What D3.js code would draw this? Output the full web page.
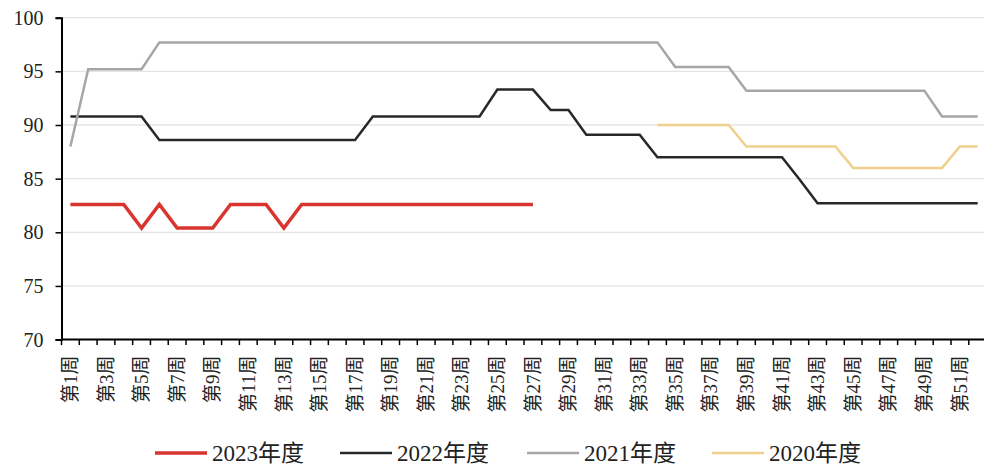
<!DOCTYPE html>
<html><head><meta charset="utf-8">
<script src="https://cdn.jsdelivr.net/npm/d3@7"></script>
<style>html,body{margin:0;padding:0;background:#fff;}svg{display:block;}</style>
</head><body>
<svg id="c" width="984" height="468"></svg>
<script>
const weeks = Array.from({length:52},(_,i)=>"第"+(i+1)+"周");
const yTicks = [70,75,80,85,90,95,100];
const seriesNames = ["2023年度","2022年度","2021年度","2020年度"];
const seriesColors = ["#d8352f","#26292b","#a6a6a6","#efd08c"];
const seriesWidths = [3.5,2.5,2.5,2.5];
const s2023 = [82.6,82.6,82.6,82.6,80.4,82.6,80.4,80.4,80.4,82.6,82.6,82.6,80.4,82.6,82.6,82.6,82.6,82.6,82.6,82.6,82.6,82.6,82.6,82.6,82.6,82.6,82.6,
  null,null,null,null,null,null,null,null,null,null,null,null,null,null,null,null,null,null,null,null,null,null,null,null,null];
const s2022 = [90.8,90.8,90.8,90.8,90.8,88.6,88.6,88.6,88.6,88.6,88.6,88.6,88.6,88.6,88.6,88.6,88.6,90.8,90.8,90.8,90.8,90.8,90.8,90.8,93.3,93.3,93.3,91.4,91.4,89.1,89.1,89.1,89.1,87.0,87.0,87.0,87.0,87.0,87.0,87.0,87.0,84.9,82.7,82.7,82.7,82.7,82.7,82.7,82.7,82.7,82.7,82.7];
const s2021 = [88.0,95.2,95.2,95.2,95.2,97.7,97.7,97.7,97.7,97.7,97.7,97.7,97.7,97.7,97.7,97.7,97.7,97.7,97.7,97.7,97.7,97.7,97.7,97.7,97.7,97.7,97.7,97.7,97.7,97.7,97.7,97.7,97.7,97.7,95.4,95.4,95.4,95.4,93.2,93.2,93.2,93.2,93.2,93.2,93.2,93.2,93.2,93.2,93.2,90.8,90.8,90.8];
const s2020 = [null,null,null,null,null,null,null,null,null,null,null,null,null,null,null,null,null,null,null,null,null,null,null,null,null,null,null,null,null,null,null,null,null,
  90,90,90,90,90,88,88,88,88,88,88,86,86,86,86,86,86,88,88];
const seriesData = [s2023,s2022,s2021,s2020];

const svg = d3.select("#c");
const font = "'Liberation Serif','Noto Sans CJK SC',serif";
const x0 = 61.5, bw = 17.79;
const x = d3.scaleBand().domain(weeks).range([x0, x0 + bw*weeks.length]).paddingInner(0).paddingOuter(0);
const y = d3.scaleLinear().domain([70,100]).range([339.6, 17.7]);

// gridlines
svg.append("g").selectAll("line").data(yTicks.filter(t=>t>70)).join("line")
  .attr("x1", x0).attr("x2", 984).attr("y1", d=>y(d)).attr("y2", d=>y(d))
  .attr("stroke", "#e4e4e4").attr("stroke-width", 1.3);

// y axis
const ya = svg.append("g").attr("transform", `translate(${x0},0)`)
  .call(d3.axisLeft(y).tickValues(yTicks).tickSize(6).tickPadding(12).tickFormat(d3.format("d")));
ya.select(".domain").attr("stroke","#000").attr("stroke-width",2);
ya.selectAll(".tick line").attr("stroke","#000").attr("stroke-width",1.5);
ya.selectAll("text").attr("font-family", font).attr("font-size", 20).attr("fill","#222");

// x axis
const xa = svg.append("g").attr("transform", `translate(0,${y(70)})`);
xa.append("line").attr("x1", x0).attr("x2", 984).attr("stroke","#000").attr("stroke-width",2);
const bounds = weeks.map(w=>x(w)).concat([x(weeks[weeks.length-1]) + x.bandwidth()]);
xa.selectAll("line.tk").data(bounds).join("line").attr("class","tk")
  .attr("x1", d=>d).attr("x2", d=>d).attr("y1",0).attr("y2",5.5)
  .attr("stroke","#000").attr("stroke-width",1.5);
xa.selectAll("text").data(weeks.filter((w,i)=>i%2===0)).join("text")
  .attr("transform", d=>`translate(${x(d)+x.bandwidth()/2},16) rotate(-90)`)
  .attr("text-anchor","end").attr("dy","0.35em")
  .attr("font-family", font).attr("font-size", 19).attr("fill","#222")
  .text(d=>d);

// lines
const line = d3.line().defined(d=>d.v!=null).x(d=>x(d.w)+x.bandwidth()/2).y(d=>y(d.v));
seriesData.forEach((s,k)=>{
  const pts = s.map((v,i)=>({w:weeks[i], v}));
  svg.append("path").datum(pts).attr("d", line)
    .attr("fill","none").attr("stroke", seriesColors[k]).attr("stroke-width", seriesWidths[k])
    .attr("stroke-linejoin","miter");
});
// draw order: put 2023 on top
svg.selectAll("path").filter((d,i)=>i===0).raise();

// legend
const legX = [155, 340, 527, 712];
const lg = svg.append("g");
seriesNames.forEach((n,k)=>{
  lg.append("line").attr("x1", legX[k]).attr("x2", legX[k]+52).attr("y1",453).attr("y2",453)
    .attr("stroke", seriesColors[k]).attr("stroke-width", seriesWidths[k]);
  lg.append("text").attr("x", legX[k]+57).attr("y", 461).attr("font-family", font).attr("font-size", 23)
    .attr("fill","#222").text(n);
});
</script>
</body></html>
